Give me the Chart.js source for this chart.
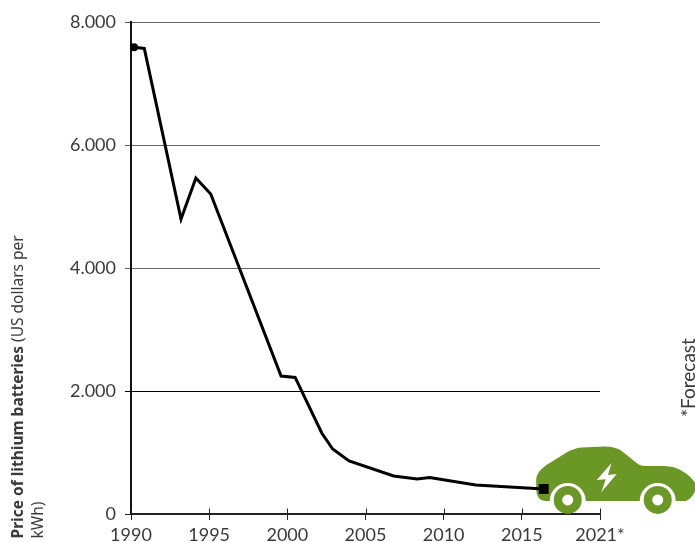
<!DOCTYPE html>
<html><head><meta charset="utf-8">
<style>html,body{margin:0;padding:0;background:#fff}#w{width:695px;height:542px;position:relative;overflow:hidden}</style>
<script src="https://cdn.jsdelivr.net/npm/chart.js@4"></script>
</head><body><div id="w"><canvas id="c" width="695" height="542"></canvas></div>
<script>
const years  = [1990.2,1990.85,1993.2,1994.15,1995.1,1999.6,2000.5,2002.2,2002.9,2003.95,2006.8,2008.3,2009.1,2012.05,2016.4];
const prices = [7590,7570,4797,5463,5203,2244,2220,1317,1057,862,618,569,593,471,407];
const xTickValues = [1990,1995,2000,2005,2010,2015,2020];
const xTickLabels = ['1990','1995','2000','2005','2010','2015','2021*'];
const yTickValues = [0,2000,4000,6000,8000];
const yTickLabels = ['0','2.000','4.000','6.000','8.000'];
const gridColors = ['#222222','#000000','#666666','#666666','#666666'];
const FONT = '"Noto Sans"';
const TICKFONT = 'Lato';
const INK = '#3a3a3a';

const decor = {
  id:'decor',
  beforeDatasetsDraw(ch){
    const {ctx,scales:{x,y}} = ch;
    ctx.save();
    ctx.strokeStyle='#222'; ctx.lineWidth=1;
    const y0=Math.round(y.getPixelForValue(0))+.5;
    xTickValues.forEach(v=>{
      const p=Math.round(x.getPixelForValue(v))+.5;
      ctx.beginPath();ctx.moveTo(p,y0-6);ctx.lineTo(p,y0);ctx.stroke();
    });
    const ax=x.getPixelForValue(years[years.length-1]), ay=y.getPixelForValue(prices[prices.length-1]);
    ctx.translate(ax-544,ay-489);
    ctx.fillStyle='#6b9727';
    const body=new Path2D('M550 501 L545 501 Q537 500 536.5 490 L536.5 479 Q537 472 546 465.5 L566 453 Q574 448 582 447.5 L605 446.5 Q616 446.5 622 451 L637 463 Q640 466 646 466 L664 466 Q676 466 684 472 Q691 476 696 484 L696 490 Q692 499 686 501 L676 501 A18 18 0 0 0 640 501 L586 501 A18 18 0 0 0 550 501 Z');
    ctx.fill(body);
    [568,658].forEach(cx=>{
      ctx.beginPath();ctx.arc(cx,500,14,0,Math.PI*2);ctx.fill();
      ctx.save();ctx.fillStyle='#fff';ctx.beginPath();ctx.arc(cx,500,5.5,0,Math.PI*2);ctx.fill();ctx.restore();
    });
    ctx.fillStyle='#fff';
    ctx.fill(new Path2D('M611.7 463.3 L597 480 L606 479.3 L601.7 492 L617 474 L608.3 475 Z'));
    ctx.restore();
  },
  afterDraw(ch){
    const {ctx}=ch;
    ctx.save();
    ctx.fillStyle=INK; ctx.textBaseline='alphabetic'; ctx.textAlign='left';
    ctx.save();ctx.translate(22.5,538.5);ctx.rotate(-Math.PI/2);
    ctx.font='bold 15.5px '+FONT;
    const a='Price of lithium batteries';
    ctx.fillText(a,0,0);
    const w=ctx.measureText(a).width;
    ctx.font='15.5px '+FONT;
    ctx.fillText(' (US dollars per',w,0);
    ctx.restore();
    ctx.save();ctx.translate(43,538.5);ctx.rotate(-Math.PI/2);
    ctx.font='15.5px '+FONT;ctx.fillText('kWh)',0,0);ctx.restore();
    ctx.save();ctx.translate(695,417);ctx.rotate(-Math.PI/2);
    ctx.font='19px '+TICKFONT;ctx.fillText('*Forecast',0,0);ctx.restore();
    ctx.restore();
  }
};

new Chart(document.getElementById('c'),{
  type:'line',
  plugins:[decor],
  data:{datasets:[{
    data:years.map((v,i)=>({x:v,y:prices[i]})),
    borderColor:'#000',borderWidth:3,borderJoinStyle:'miter',tension:0,clip:false,
    pointStyle:years.map((_,i)=>i===0?'circle':(i===years.length-1?'rect':false)),
    pointRadius:years.map((_,i)=>i===0?4:(i===years.length-1?7:0)),
    pointBackgroundColor:'#000',pointBorderColor:'#000',pointBorderWidth:0
  }]},
  options:{
    responsive:false,animation:false,
    layout:{padding:{top:22,right:95,left:0,bottom:0}},
    plugins:{legend:{display:false},tooltip:{enabled:false},title:{display:false}},
    scales:{
      x:{type:'linear',min:1990,max:2020,
        afterFit(s){s.height=28;},
        afterBuildTicks(s){s.ticks=xTickValues.map(v=>({value:v}));},
        grid:{drawOnChartArea:false,drawTicks:true,tickLength:6,color:'#222',lineWidth:1},
        border:{color:'#222',width:1.5},
        ticks:{padding:4,maxRotation:0,autoSkip:false,color:INK,font:{family:TICKFONT,size:18},
          callback:v=>xTickLabels[xTickValues.indexOf(v)]}},
      y:{min:0,max:8000,
        afterFit(s){s.width=131;},
        afterBuildTicks(s){s.ticks=yTickValues.map(v=>({value:v}));},
        grid:{color:c=>gridColors[yTickValues.indexOf(c.tick.value)],lineWidth:1,tickLength:6},
        border:{color:'#111',width:2},
        ticks:{padding:9,color:INK,font:{family:TICKFONT,size:18},
          callback:v=>yTickLabels[yTickValues.indexOf(v)]}}
    }
  }
});
</script></body></html>
